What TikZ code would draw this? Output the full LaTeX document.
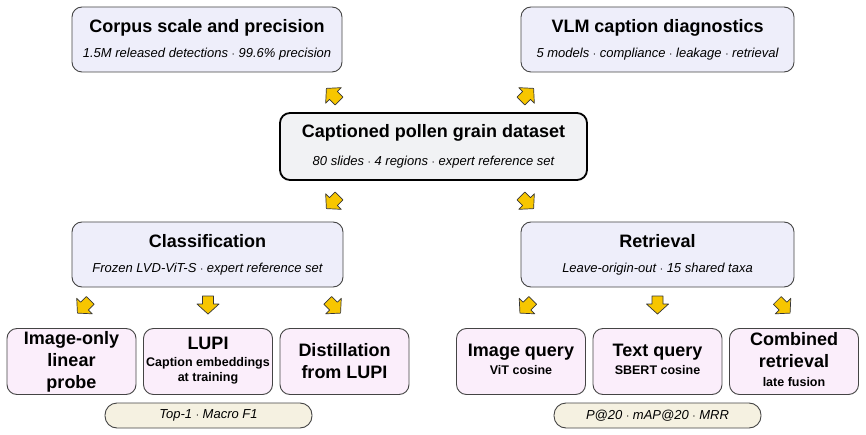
\documentclass[tikz,border=0pt]{standalone}
\usepackage{fontspec}
\setmainfont{Liberation Sans}
\usetikzlibrary{calc}
\definecolor{topfill}{HTML}{EEEEFA}
\definecolor{dsfill}{HTML}{F1F2F4}
\definecolor{leaffill}{HTML}{FBEEFB}
\definecolor{pillfill}{HTML}{F5F1E1}
\definecolor{arrowfill}{HTML}{F7C600}
\definecolor{edge}{HTML}{444444}
\tikzset{
  x=1pt,y=1pt,
  box/.style={draw=edge, line width=0.9pt, rounded corners=10pt, align=center, inner sep=2pt,
     font=\fontsize{18}{22}\selectfont\bfseries},
  topbox/.style={box, fill=topfill, minimum height=65pt},
  dsbox/.style={box, draw=black, line width=1.8pt, fill=dsfill, minimum width=307pt, minimum height=67pt},
  leafbox/.style={box, fill=leaffill, minimum width=129pt, minimum height=66pt},
  pillbox/.style={box, fill=pillfill, rounded corners=12pt, minimum width=207pt, minimum height=25pt},
  yarrow/.pic={\draw[fill=arrowfill, draw=edge!80!black, line width=0.7pt, line join=round]
     (-8,-5.5)--(0,-5.5)--(0,-11)--(10,0)--(0,11)--(0,5.5)--(-8,5.5)--cycle;}
}
\newcommand{\Sub}[1]{{\fontsize{13}{16}\selectfont\mdseries\itshape #1}}
\newcommand{\Lsub}[1]{{\fontsize{12.5}{15}\selectfont\bfseries\begin{tabular}{@{}c@{}}#1\end{tabular}}}
\begin{document}
\begin{tikzpicture}
\useasboundingbox (0,0) rectangle (866,-435);
\fill[white] (0,0) rectangle (866,-435);

\node[topbox, minimum width=270pt] (corpus) at (207,-39.5)
  {Corpus scale and precision\\[3pt]\Sub{1.5M released detections $\cdot$ 99.6\% precision}};
\node[topbox, minimum width=273pt] (vlm) at (657.5,-39.5)
  {VLM caption diagnostics\\[3pt]\Sub{5 models $\cdot$ compliance $\cdot$ leakage $\cdot$ retrieval}};
\node[dsbox] (ds) at (433.5,-146.5)
  {Captioned pollen grain dataset\\[6pt]\Sub{80 slides $\cdot$ 4 regions $\cdot$ expert reference set}};
\node[topbox, minimum width=271pt] (cls) at (207.5,-254.5)
  {Classification\\[3pt]\Sub{Frozen LVD-ViT-S $\cdot$ expert reference set}};
\node[topbox, minimum width=273pt] (ret) at (657.5,-254.5)
  {Retrieval\\[3pt]\Sub{Leave-origin-out $\cdot$ 15 shared taxa}};

\node[leafbox] (lin) at (71.5,-361.5) {Image-only\\linear\\probe};
\node[leafbox] (lupi) at (208,-361.5) {LUPI\\[3pt]\Lsub{Caption embeddings\\at training}};
\node[leafbox] (dist) at (344.5,-361.5) {Distillation\\from LUPI};
\node[leafbox] (iq) at (521,-361.5) {Image query\\[-4pt]\Lsub{ViT cosine}};
\node[leafbox] (tq) at (657.5,-361.5) {Text query\\[-4pt]\Lsub{SBERT cosine}};
\node[leafbox] (comb) at (794,-361.5) {Combined\\retrieval\\[-3pt]\Lsub{late fusion}};

\node[pillbox] (m1) at (208.5,-415.5) {\Sub{Top-1 $\cdot$ Macro F1}};
\node[pillbox] (m2) at (657.5,-415.5) {\Sub{P@20 $\cdot$ mAP@20 $\cdot$ MRR}};

% connectors: block arrows between parent and child nodes
\path ($(corpus.south east)+(-9,-23)$) pic[rotate=135] {yarrow};
\path ($(vlm.south west)+(6,-23)$) pic[rotate=45] {yarrow};
\path ($(cls.north east)+(-10,20)$) pic[rotate=225] {yarrow};
\path ($(ret.north west)+(6,20)$) pic[rotate=315] {yarrow};

\path ($(lin.north)+(13,22)$) pic[rotate=225] {yarrow};
\path ($(lupi.north)+(0,24)$) pic[rotate=270] {yarrow};
\path ($(dist.north)+(-11,22)$) pic[rotate=315] {yarrow};
\path ($(iq.north)+(6,22)$) pic[rotate=225] {yarrow};
\path ($(tq.north)+(0,24)$) pic[rotate=270] {yarrow};
\path ($(comb.north)+(-11,22)$) pic[rotate=315] {yarrow};
\end{tikzpicture}
\end{document}
